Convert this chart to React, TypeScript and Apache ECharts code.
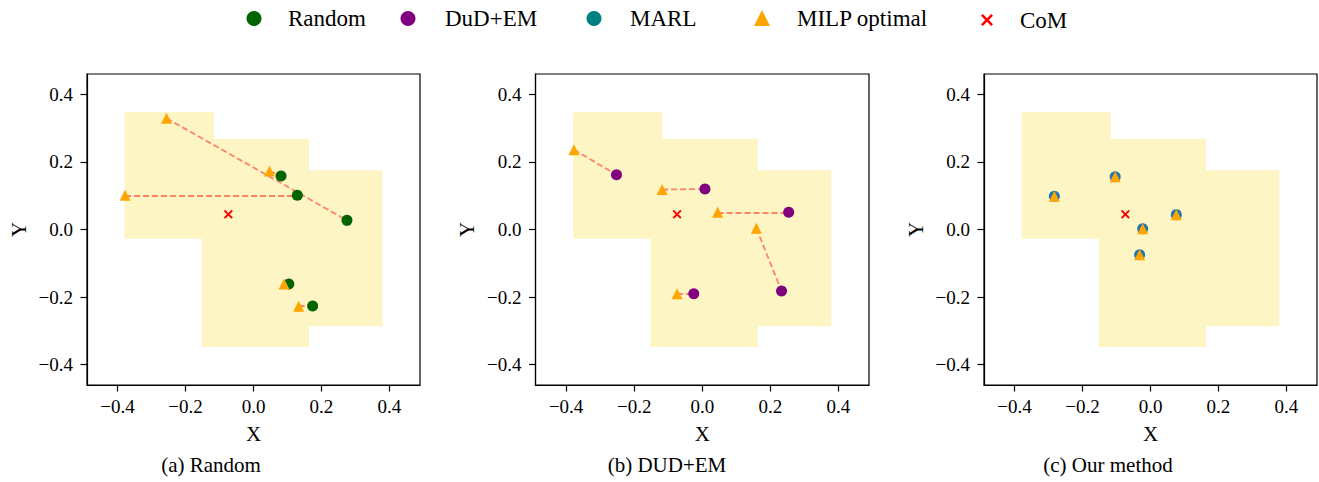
import React, { useEffect, useRef } from 'react';
import * as echarts from 'echarts';

// ---- data ----
const tickValues = [-0.4, -0.2, 0.0, 0.2, 0.4];
const xRange = [-0.49, 0.49];
const yRange = [-0.46, 0.46];
const methodNames = ['Random', 'DuD+EM', 'MARL'];
const captions = ['(a) Random', '(b) DUD+EM', '(c) Our method'];
// feasible region: rectangles [x1, y1, x2, y2]
const regionRects = [
  [-0.378, -0.026, -0.118, 0.346],
  [-0.151, -0.346, 0.162, 0.267],
  [0.162, -0.285, 0.378, 0.174],
];
const comPoint = [[-0.074, 0.045]];

const randomPts = [[0.081, 0.158], [0.129, 0.101], [0.275, 0.027], [0.104, -0.161], [0.174, -0.226]];
const randomMilp = [[-0.256, 0.329], [0.047, 0.173], [-0.378, 0.101], [0.09, -0.161], [0.133, -0.227]];
const randomPairs = [[0, 2], [1, 0], [2, 1], [3, 3], [4, 4]]; // [milp index, point index]

const dudPts = [[-0.252, 0.162], [0.008, 0.12], [0.254, 0.051], [0.233, -0.182], [-0.025, -0.19]];
const dudMilp = [[-0.377, 0.236], [-0.118, 0.118], [0.045, 0.051], [0.159, 0.004], [-0.074, -0.19]];
const dudPairs = [[0, 0], [1, 1], [2, 2], [3, 3], [4, 4]];

const marlPts = [[-0.283, 0.098], [-0.104, 0.156], [0.076, 0.044], [-0.023, 0.002], [-0.032, -0.075]];
const marlMilp = [[-0.283, 0.098], [-0.104, 0.156], [0.076, 0.044], [-0.023, 0.002], [-0.032, -0.075]];
const marlPairs: number[][] = [];

const panelPts = [randomPts, dudPts, marlPts];
const panelMilp = [randomMilp, dudMilp, marlMilp];
const panelPairs = [randomPairs, dudPairs, marlPairs];

// ---- style ----
const FONT = 'Liberation Serif';
const methodColors = ['#006400', '#800080', '#1f77b4'];
const legendColors: Record<string, string> = { Random: '#006400', 'DuD+EM': '#800080', MARL: '#008080', 'MILP optimal': '#FFA500', CoM: '#FF0000' };
const crossPath = 'path://M1.5,0L5,3.5L8.5,0L10,1.5L6.5,5L10,8.5L8.5,10L5,6.5L1.5,10L0,8.5L3.5,5L0,1.5Z';
const grids = [
  { left: 87, top: 74, width: 333, height: 311 },
  { left: 535.5, top: 74, width: 333.5, height: 311 },
  { left: 984, top: 74, width: 333, height: 311 },
];
const captionX = [211, 667, 1108];
const legendItems = [
  { name: 'Random', marker: 254, text: 288, icon: 15 },
  { name: 'DuD+EM', marker: 408, text: 445, icon: 15 },
  { name: 'MARL', marker: 594, text: 630, icon: 15 },
  { name: 'MILP optimal', marker: 762, text: 797, icon: 16 },
  { name: 'CoM', marker: 987, text: 1020, icon: 12 },
];

const fmt = (v: number) => (v < 0 ? '\u2212' : '') + Math.abs(v).toFixed(1);

export default function App() {
  const ref = useRef<HTMLDivElement>(null);
  useEffect(() => {
    if (!ref.current) return;
    const chart = echarts.init(ref.current, undefined, { renderer: 'svg' });

    const xAxis: any[] = [];
    const yAxis: any[] = [];
    const series: any[] = [];
    grids.forEach((g, i) => {
      const labelStyle = {
        customValues: tickValues,
        formatter: fmt,
        fontFamily: FONT,
        fontSize: 19,
        color: '#000',
      };
      const common = {
        gridIndex: i,
        type: 'value',
        nameLocation: 'middle',
        nameTextStyle: { fontFamily: FONT, fontSize: 21, color: '#000' },
        axisLine: { show: true, onZero: false, lineStyle: { color: '#000', width: 1.2 } },
        axisTick: { show: true, inside: false, length: 6.5, customValues: tickValues, lineStyle: { color: '#000', width: 1.2 } },
        splitLine: { show: false },
      };
      xAxis.push({ ...common, min: xRange[0], max: xRange[1], name: 'X', nameGap: 38, axisLabel: { ...labelStyle, margin: 12 } });
      yAxis.push({ ...common, min: yRange[0], max: yRange[1], name: 'Y', nameGap: 58, axisLabel: { ...labelStyle, margin: 14 } });

      series.push({
        type: 'custom',
        name: 'region' + i,
        xAxisIndex: i,
        yAxisIndex: i,
        z: 1,
        silent: true,
        data: regionRects,
        renderItem: (_p: any, api: any) => {
          const a = api.coord([api.value(0), api.value(3)]);
          const b = api.coord([api.value(2), api.value(1)]);
          return {
            type: 'rect',
            shape: { x: a[0], y: a[1], width: b[0] - a[0], height: b[1] - a[1] },
            style: { fill: '#fdf5c4', stroke: '#fdf5c4', lineWidth: 0.8 },
          };
        },
      });

      const pts = panelPts[i];
      const milp = panelMilp[i];
      series.push({
        type: 'lines',
        name: 'link' + i,
        coordinateSystem: 'cartesian2d',
        xAxisIndex: i,
        yAxisIndex: i,
        z: 2,
        silent: true,
        lineStyle: { color: 'rgba(255,40,30,0.55)', width: 1.8, type: [6, 3], opacity: 1 },
        data: panelPairs[i].map(([m, p]) => ({ coords: [milp[m], pts[p]] })),
      });
      series.push({
        type: 'scatter',
        name: methodNames[i],
        xAxisIndex: i,
        yAxisIndex: i,
        z: 3,
        symbol: 'circle',
        symbolSize: 11,
        itemStyle: { color: methodColors[i], opacity: 1 },
        data: pts,
      });
      series.push({
        type: 'scatter',
        name: 'MILP optimal',
        xAxisIndex: i,
        yAxisIndex: i,
        z: 4,
        symbol: 'triangle',
        symbolSize: 11,
        itemStyle: { color: '#FFA500', opacity: 1 },
        data: milp,
      });
      series.push({
        type: 'scatter',
        name: 'CoM',
        xAxisIndex: i,
        yAxisIndex: i,
        z: 5,
        symbol: crossPath,
        symbolSize: 9,
        itemStyle: { color: '#FF0000', opacity: 1 },
        data: comPoint,
      });
    });

    const legend = legendItems.map((it) => ({
      data: [{ name: it.name, itemStyle: { color: legendColors[it.name] } }],
      left: it.marker - it.icon / 2,
      top: 7 + (15 - it.icon) / 2,
      itemWidth: it.icon,
      itemHeight: it.icon,
      symbolKeepAspect: true,
      selectedMode: false,
      padding: 0,
      textStyle: {
        fontFamily: FONT,
        fontSize: 23,
        color: '#000',
        padding: [0, 0, 0, it.text - (it.marker + it.icon / 2 + 5)],
      },
    }));

    chart.setOption({
      animation: false,
      backgroundColor: '#fff',
      textStyle: { fontFamily: FONT },
      grid: grids.map((g) => ({ ...g, show: true, borderColor: '#000', borderWidth: 1.2, backgroundColor: 'transparent' })),
      xAxis,
      yAxis,
      legend,
      series,
      graphic: captions.map((c, i) => ({
        type: 'text',
        x: captionX[i],
        y: 465,
        style: { text: c, fontFamily: FONT, fontSize: 21, fill: '#000', textAlign: 'center', textVerticalAlign: 'middle' },
      })),
    });
    return () => chart.dispose();
  }, []);
  return <div ref={ref} style={{ position: 'fixed', left: 0, top: 0, width: 1319, height: 482 }} />;
}
